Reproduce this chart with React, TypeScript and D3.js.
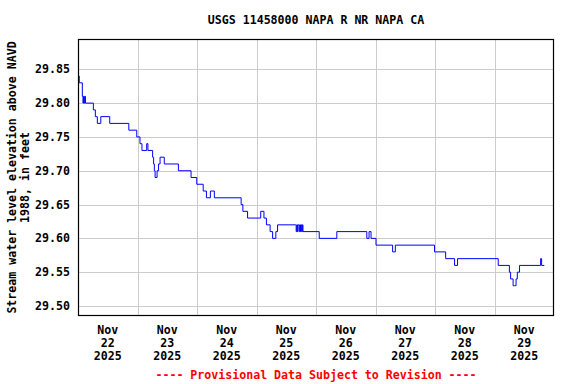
import React from "react";
import * as d3 from "d3";

const TITLE = "USGS 11458000 NAPA R NR NAPA CA";
const Y_TITLE_1 = "Stream water level elevation above NAVD";
const Y_TITLE_2 = "1988, in feet";
const FOOTER = "---- Provisional Data Subject to Revision ----";

// hours after Nov 22 2025 00:00 (local), and gage height value (ft)
const hours = [
  0, 0.5, 1.75, 2.0, 2.25, 2.5, 2.75, 3.0,
  6.2, 7.0, 7.8, 9.2, 12.8, 20.5, 23.7, 25.0, 25.8, 27.7, 28.2,
  30.1, 30.5, 30.8, 31.1, 31.9, 32.5, 33.1, 34.8, 40.5, 45.6, 47.9,
  50.5, 51.8, 53.4, 55.0, 65.8, 66.5, 68.4, 73.7, 75.0, 76.0, 77.5,
  78.5, 79.8, 80.5,
  87.75, 88.0, 88.25, 88.5, 88.75, 89.0, 89.25, 89.5, 89.75, 90.0, 90.25, 90.5, 90.75,
  97.3, 104.4, 116.5, 117.4, 118.2, 120.2, 126.9, 128.0,
  143.8, 148.3, 151.9, 153.1, 169.5, 174.0, 174.5, 175.5, 176.0, 176.7,
  177.2, 178.1, 186.6, 187.0, 188.1,
];
const values = [
  29.84, 29.83, 29.81, 29.80, 29.81, 29.80, 29.81, 29.80,
  29.79, 29.78, 29.77, 29.78, 29.77, 29.76, 29.75, 29.74, 29.73, 29.74, 29.73,
  29.72, 29.71, 29.70, 29.69, 29.70, 29.71, 29.72, 29.71, 29.70, 29.69, 29.68,
  29.67, 29.66, 29.67, 29.66, 29.65, 29.64, 29.63, 29.64, 29.63, 29.62, 29.61,
  29.60, 29.61, 29.62,
  29.62, 29.61, 29.62, 29.61, 29.62, 29.62, 29.61, 29.62, 29.61, 29.62, 29.61, 29.62, 29.61,
  29.60, 29.61, 29.60, 29.61, 29.60, 29.59, 29.58, 29.59,
  29.58, 29.57, 29.56, 29.57, 29.56, 29.55, 29.54, 29.53, 29.53, 29.54,
  29.55, 29.56, 29.57, 29.56, 29.56,
];

const yTicks = [29.5, 29.55, 29.6, 29.65, 29.7, 29.75, 29.8, 29.85];
const labelDays = [22, 23, 24, 25, 26, 27, 28, 29];
const gridDays = [23, 24, 25, 26, 27, 28, 29];
const MONTH_LABEL = "Nov";
const YEAR_LABEL = "2025";

const W = 576;
const H = 384;
const M = { left: 78, right: 554, top: 39, bottom: 316 };
const FONT = "'DejaVu Sans Mono', monospace";

export default function App() {
  const start = new Date(2025, 10, 22, 0, 0, 0);
  const end = new Date(2025, 10, 30, 0, 0, 0);
  const x = d3.scaleTime().domain([start, end]).range([M.left, M.right]);
  const y = d3.scaleLinear().domain([29.4852, 29.8948]).range([M.bottom, M.top]);

  const data = hours.map((h, i) => ({
    t: new Date(start.getTime() + h * 3600 * 1000),
    v: values[i],
  }));
  const line = d3
    .line<{ t: Date; v: number }>()
    .x((d) => x(d.t))
    .y((d) => y(d.v))
    .curve(d3.curveStepAfter);

  const cx = (M.left + M.right) / 2;
  const cy = (M.top + M.bottom) / 2;

  return (
    <svg
      width={W}
      height={H}
      style={{ position: "absolute", left: 0, top: 0, background: "#fff" }}
      fontFamily={FONT}
      fontWeight="bold"
      fontSize={11.6}
    >
      <rect x={0} y={0} width={W} height={H} fill="#fff" />
      <text x={cx} y={24} textAnchor="middle" fill="#000">
        {TITLE}
      </text>
      {/* grid */}
      {yTicks.map((v) => (
        <line
          key={"gy" + v}
          x1={M.left}
          x2={M.right}
          y1={Math.round(y(v)) + 0.5}
          y2={Math.round(y(v)) + 0.5}
          stroke="#cccccc"
          strokeWidth={1}
        />
      ))}
      {gridDays.map((d) => {
        const xx = Math.round(x(new Date(2025, 10, d, 0, 0, 0))) + 0.5;
        return (
          <line key={"gx" + d} x1={xx} x2={xx} y1={M.top} y2={M.bottom} stroke="#cccccc" strokeWidth={1} />
        );
      })}
      {/* data */}
      <path d={line(data) || ""} fill="none" stroke="#0000ff" strokeWidth={1} />
      {/* frame */}
      <rect
        x={M.left + 0.5}
        y={M.top + 0.5}
        width={M.right - M.left - 1}
        height={M.bottom - M.top - 1}
        fill="none"
        stroke="#000"
        strokeWidth={1.2}
      />
      {/* y tick labels */}
      {yTicks.map((v) => (
        <text key={"yl" + v} x={70} y={y(v) + 4} textAnchor="end" fill="#000">
          {v.toFixed(2)}
        </text>
      ))}
      {/* x tick labels */}
      {labelDays.map((d) => {
        const xx = x(new Date(2025, 10, d, 12, 0, 0));
        return (
          <text key={"xl" + d} x={xx} textAnchor="middle" fill="#000">
            <tspan x={xx} y={334}>{MONTH_LABEL}</tspan>
            <tspan x={xx} y={347}>{String(d)}</tspan>
            <tspan x={xx} y={359.5}>{YEAR_LABEL}</tspan>
          </text>
        );
      })}
      {/* y axis title */}
      <text transform={`translate(16,${cy}) rotate(-90)`} textAnchor="middle" fill="#000">
        {Y_TITLE_1}
      </text>
      <text transform={`translate(29,${cy}) rotate(-90)`} textAnchor="middle" fill="#000">
        {Y_TITLE_2}
      </text>
      <text x={cx} y={379} textAnchor="middle" fill="#ff0000">
        {FOOTER}
      </text>
    </svg>
  );
}
